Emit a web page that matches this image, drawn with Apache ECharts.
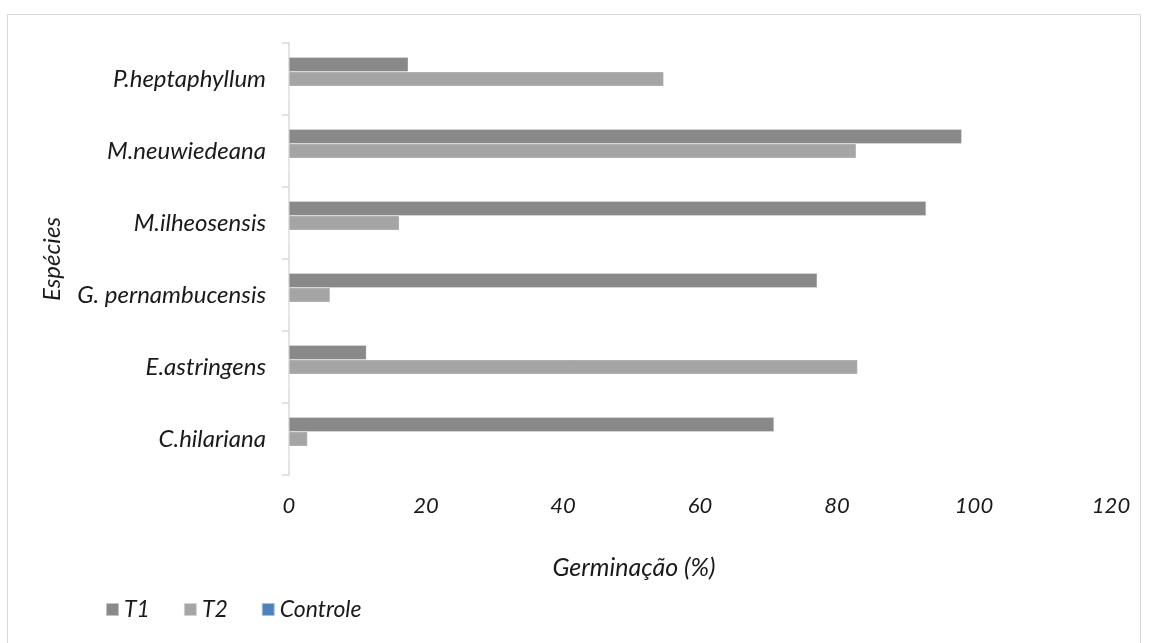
<!DOCTYPE html>
<html>
<head>
<meta charset="utf-8">
<script src="https://cdn.jsdelivr.net/npm/echarts@6/dist/echarts.min.js"></script>
<style>
html,body{margin:0;padding:0;background:#fff;}
#chart{width:1150px;height:643px;}
</style>
</head>
<body>
<div id="chart"></div>
<script>
// Categories listed from bottom to top of the chart
var categories = ['C.hilariana', 'E.astringens', 'G. pernambucensis', 'M.ilheosensis', 'M.neuwiedeana', 'P.heptaphyllum'];
var seriesNames = ['T1', 'T2', 'Controle'];
var t1Values = [70.8, 11.3, 77.1, 93.0, 98.2, 17.4];
var t2Values = [2.7, 83.0, 6.0, 16.1, 82.8, 54.7];
var controleValues = [0, 0, 0, 0, 0, 0];
var xTicks = [0, 20, 40, 60, 80, 100, 120];

var FONT = 'Lato';
var TEXT = '#1a1a1a';

var chart = echarts.init(document.getElementById('chart'), null, {renderer: 'canvas'});

function mkSeries(name, data, color) {
  return {
    name: name,
    type: 'bar',
    data: data,
    barWidth: 14.5,
    barGap: '0%',
    itemStyle: {color: color, borderColor: 'rgba(255,255,255,0.5)', borderWidth: 0.5},
    emphasis: {disabled: true},
    animation: false
  };
}

chart.setOption({
  backgroundColor: '#ffffff',
  animation: false,
  textStyle: {fontFamily: FONT},
  grid: {left: 289, right: 39, top: 43, bottom: 168, containLabel: false},
  legend: {
    data: seriesNames,
    left: 105,
    top: 598,
    padding: 0,
    icon: 'rect',
    itemWidth: 13,
    itemHeight: 13,
    itemGap: 33,
    textStyle: {fontFamily: FONT, fontStyle: 'italic', fontSize: 23, color: TEXT}
  },
  xAxis: {
    type: 'value',
    min: xTicks[0],
    max: xTicks[xTicks.length - 1],
    interval: xTicks[1] - xTicks[0],
    axisLine: {show: false},
    axisTick: {show: false},
    splitLine: {show: false},
    axisLabel: {fontFamily: FONT, fontStyle: 'italic', fontSize: 22, color: TEXT, margin: 20}
  },
  yAxis: {
    type: 'category',
    data: categories,
    name: 'Espécies',
    nameLocation: 'middle',
    nameRotate: 90,
    nameGap: 225,
    nameTextStyle: {fontFamily: FONT, fontStyle: 'italic', fontSize: 24, color: TEXT},
    axisLine: {show: true, lineStyle: {color: '#d9d9d9', width: 1.5}},
    axisTick: {show: true, length: 7, lineStyle: {color: '#d9d9d9', width: 1.5}},
    axisLabel: {fontFamily: FONT, fontStyle: 'italic', fontSize: 24, color: TEXT, margin: 23}
  },
  graphic: [
    {
      type: 'rect',
      shape: {x: 7.5, y: 14.5, width: 1133, height: 640},
      style: {fill: 'none', stroke: '#d9d9d9', lineWidth: 1},
      silent: true
    },
    {
      type: 'text',
      x: 634,
      y: 568,
      style: {
        text: 'Germinação (%)',
        fontFamily: FONT,
        fontStyle: 'italic',
        fontSize: 25,
        fill: TEXT,
        align: 'center',
        verticalAlign: 'middle'
      },
      silent: true
    }
  ],
  series: [
    mkSeries(seriesNames[0], t1Values, '#898989'),
    mkSeries(seriesNames[1], t2Values, '#a5a5a5'),
    mkSeries(seriesNames[2], controleValues, '#4f81bd')
  ]
});
</script>
</body>
</html>
